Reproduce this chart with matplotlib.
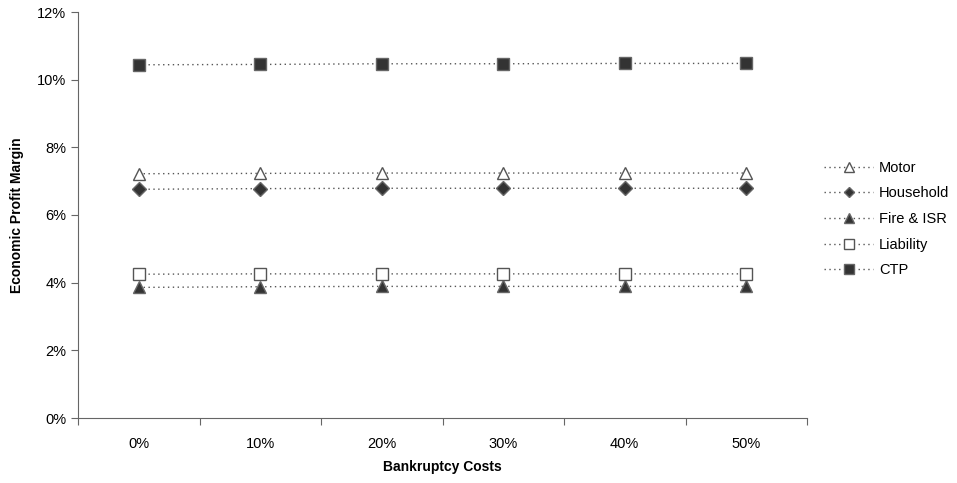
import matplotlib
matplotlib.use("Agg")
import matplotlib.pyplot as plt
from matplotlib.ticker import FixedLocator, PercentFormatter

plt.rcParams['font.family'] = ['Liberation Sans', 'DejaVu Sans']

categories = ["0%", "10%", "20%", "30%", "40%", "50%"]
motor = [7.22, 7.23, 7.24, 7.24, 7.24, 7.24]
household = [6.76, 6.78, 6.79, 6.79, 6.79, 6.79]
fire = [3.86, 3.88, 3.89, 3.89, 3.89, 3.89]
liability = [4.25, 4.26, 4.26, 4.26, 4.26, 4.26]
ctp = [10.44, 10.45, 10.47, 10.47, 10.48, 10.48]
y_ticks = [0, 2, 4, 6, 8, 10, 12]

fig = plt.figure(figsize=(9.57, 4.83), dpi=100)
ax = fig.add_axes([78/957, 65/483, (807-78)/957, (418-12)/483])

xs = [i + 0.5 for i in range(len(categories))]
dark = "#333333"
edge = "#555555"
series = [
    ("Motor", motor, "^", "white"),
    ("Household", household, "D", dark),
    ("Fire & ISR", fire, "^", dark),
    ("Liability", liability, "s", "white"),
    ("CTP", ctp, "s", dark),
]
for name, vals, mk, fc in series:
    ms = 7 if mk == "D" else 9
    ax.plot(xs, vals, linestyle=(0, (1, 2.5)), color="#555555", linewidth=1.0,
            marker=mk, markersize=ms, markerfacecolor=fc, markeredgecolor=edge if fc == "white" else "#666666",
            markeredgewidth=1.0, label=name)

ax.set_xlim(0, len(categories))
ax.set_ylim(0, 12)
ax.xaxis.set_major_locator(FixedLocator(list(range(len(categories) + 1))))
ax.set_xticklabels([])
ax.xaxis.set_minor_locator(FixedLocator(xs))
ax.set_xticklabels(categories, minor=True)
ax.tick_params(axis='x', which='minor', length=0, pad=14, labelsize=10.5)
ax.tick_params(axis='x', which='major', length=5, direction='out', color="#666666")
ax.set_yticks(y_ticks)
ax.yaxis.set_major_formatter(PercentFormatter(decimals=0))
ax.tick_params(axis='y', length=5, direction='out', color="#666666", labelsize=10.5)

for s in ["top", "right"]:
    ax.spines[s].set_visible(False)
for s in ["left", "bottom"]:
    ax.spines[s].set_color("#666666")

ax.set_xlabel("Bankruptcy Costs", fontweight="bold", fontsize=10, labelpad=6)
ax.set_ylabel("Economic Profit Margin", fontweight="bold", fontsize=10, labelpad=9)

ax.legend(loc="center left", bbox_to_anchor=(1.005, 0.49), frameon=False, fontsize=10.5,
          handlelength=3.4, labelspacing=0.8, handletextpad=0.4, markerscale=0.8)

fig.savefig("out.png", dpi=100)
